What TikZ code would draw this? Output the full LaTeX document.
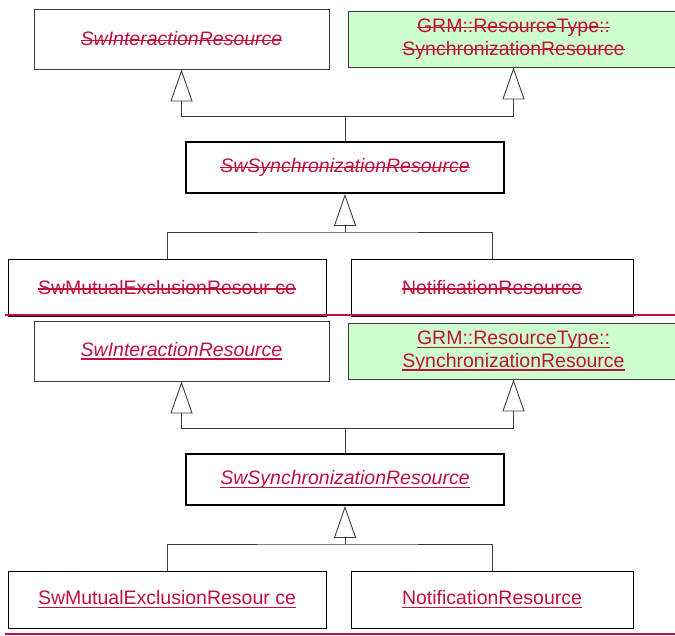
\documentclass[tikz,border=0pt]{standalone}
\usepackage{fontspec}
\setmainfont{Liberation Sans}
\usepackage{xcolor}
\usepackage{tikz}
\usetikzlibrary{arrows.meta,positioning}
\definecolor{chgRed}{HTML}{C0103C}
\definecolor{grmGreen}{HTML}{CCFFCC}
\definecolor{lnGray}{HTML}{3C3C3C}
\newsavebox{\chgbox}
\newcommand{\delTxt}[1]{\sbox{\chgbox}{#1}\rlap{\usebox{\chgbox}}\rule[4.6pt]{\wd\chgbox}{1.4pt}}
\newcommand{\insTxt}[1]{\sbox{\chgbox}{#1}\rlap{\usebox{\chgbox}}\rule[-3.8pt]{\wd\chgbox}{1.8pt}}
\tikzset{
  cls/.style={draw=lnGray,line width=0.9pt,fill=white,inner sep=0pt,
    text=chgRed,align=center,font=\fontsize{19.5}{22.5}\selectfont},
  clsit/.style={cls,font=\fontsize{19.5}{22.5}\selectfont\itshape},
  gen/.style={lnGray,line width=0.9pt,-{Triangle[open,length=32pt,width=22pt]}},
  conn/.style={lnGray,line width=0.9pt},
  chgline/.style={chgRed,line width=2pt}
}

\begin{document}
\begin{tikzpicture}[x=1pt,y=-1pt]
  \useasboundingbox (0,0) rectangle (675,635);
  % deleted version
  \node[clsit,minimum width=295pt,minimum height=60pt] (intT) at (181.5,39) {\delTxt{SwInteractionResource}};
  \node[cls,fill=grmGreen,minimum width=331pt,minimum height=56pt] (grmT) at (513.5,39)
    {\delTxt{GRM::ResourceType::}\\\delTxt{SynchronizationResource}};
  \node[clsit,draw=black,line width=1.8pt,minimum width=318pt,minimum height=51pt] (syncT) at (345,167.5) {\delTxt{SwSynchronizationResource}};
  \node[cls,draw=black,minimum width=318pt,minimum height=57pt] (mutexT) at (167,287.5) {\delTxt{SwMutualExclusionResour ce}};
  \node[cls,draw=black,minimum width=282pt,minimum height=57pt] (notifT) at (492,287.5) {\delTxt{NotificationResource}};
  \coordinate (jT1) at (345,116.5);
  \coordinate (jT2) at (345,232);
  \draw[conn] (syncT.north) -- (jT1);
  \draw[gen] (jT1) -| (intT.south);
  \draw[gen] (jT1) -| (grmT.south);
  \draw[gen] (jT2) -- (syncT.south);
  \draw[conn] (mutexT.north) |- (jT2) -| (notifT.north);
  \draw[chgline] (5,314.5) -- (675,314.5);
  % inserted version
  \node[clsit,minimum width=295pt,minimum height=60pt] (intB) at (181.5,351) {\insTxt{SwInteractionResource}};
  \node[cls,fill=grmGreen,minimum width=331pt,minimum height=56pt] (grmB) at (513.5,351)
    {\insTxt{GRM::ResourceType::}\\\insTxt{SynchronizationResource}};
  \node[clsit,draw=black,line width=1.8pt,minimum width=318pt,minimum height=51pt] (syncB) at (345,479.5) {\insTxt{SwSynchronizationResource}};
  \node[cls,draw=black,minimum width=318pt,minimum height=57pt] (mutexB) at (167,599.5) {\insTxt{SwMutualExclusionResour ce}};
  \node[cls,draw=black,minimum width=282pt,minimum height=57pt] (notifB) at (492,599.5) {\insTxt{NotificationResource}};
  \coordinate (jB1) at (345,428.5);
  \coordinate (jB2) at (345,544);
  \draw[conn] (syncB.north) -- (jB1);
  \draw[gen] (jB1) -| (intB.south);
  \draw[gen] (jB1) -| (grmB.south);
  \draw[gen] (jB2) -- (syncB.south);
  \draw[conn] (mutexB.north) |- (jB2) -| (notifB.north);
  \draw[chgline] (5,633.5) -- (675,633.5);
\end{tikzpicture}
\end{document}
